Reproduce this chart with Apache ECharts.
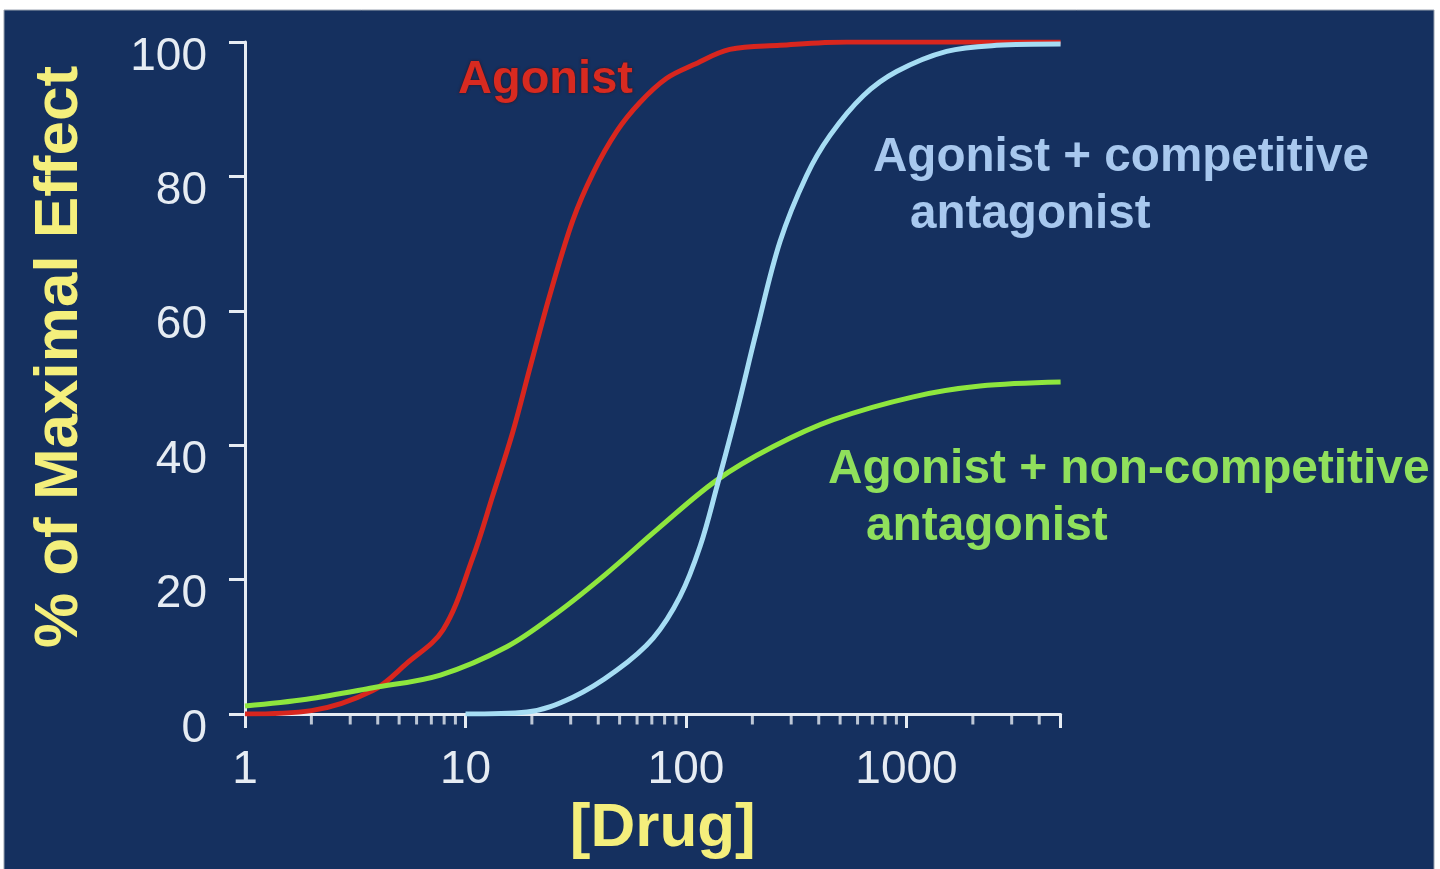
<!DOCTYPE html>
<html>
<head>
<meta charset="utf-8">
<title>Agonist dose-response</title>
<script src="https://cdn.jsdelivr.net/npm/echarts@6/dist/echarts.min.js"></script>
<style>
  html, body { margin: 0; padding: 0; background: #ffffff; }
  #chart { width: 1440px; height: 869px; }
</style>
</head>
<body>
<div id="chart"></div>
<script>
// values
const agonistDose = [1, 2, 3.8, 5.4, 7.9, 10.8, 13.3, 16.4, 19.6, 24.2, 30.7, 37.9, 48.5, 61.8, 81.7, 108, 158, 267, 536, 5000];
const agonistEffect = [0, 0.5, 3.5, 7.5, 12.5, 23.3, 32.5, 42, 51.5, 62.5, 73.5, 80.5, 86.7, 91.0, 94.6, 96.6, 98.9, 99.5, 100, 100];

const competitiveDose = [10, 19, 30.7, 48.5, 71, 94, 116, 138, 170, 209, 267, 352, 450, 637, 902, 1521, 2565, 5000];
const competitiveEffect = [0, 0.3, 2.5, 6.5, 11.3, 17.5, 25, 33.8, 45, 57, 70.3, 80.1, 86.1, 92.0, 95.6, 98.6, 99.5, 99.7];

const nonCompDose = [1, 1.9, 3.8, 7.7, 15.4, 25.9, 43.6, 73.6, 138, 249, 466, 1074, 2155, 5000];
const nonCompEffect = [1.2, 2.2, 3.9, 5.8, 10.0, 15.0, 20.9, 27.4, 34.8, 39.8, 43.8, 47.2, 48.8, 49.4];

const xTickLabels = [1, 10, 100, 1000];
const xMinorTicks = [2, 3, 4, 5, 6, 7, 8, 9, 20, 30, 40, 50, 60, 70, 80, 90,
  200, 300, 400, 500, 600, 700, 800, 900, 2000, 3000, 4000];

const axisColor = '#e6ecf3';
const font = '"Liberation Sans", Arial, Helvetica, sans-serif';

function pairs(xs, ys) {
  return xs.map((x, i) => [x, ys[i]]);
}

const chart = echarts.init(document.getElementById('chart'));

const option = {
  backgroundColor: '#ffffff',
  animation: false,
  grid: {
    left: 245,
    top: 42,
    width: 815.6,
    height: 672
  },
  xAxis: {
    type: 'log',
    logBase: 10,
    min: 1,
    max: 5000,
    name: '[Drug]',
    nameLocation: 'middle',
    nameGap: 78,
    nameTextStyle: {
      color: '#f4ef7c',
      fontFamily: font,
      fontWeight: 'bold',
      fontSize: 62,
      padding: [0, 0, 0, 20]
    },
    axisLine: { lineStyle: { color: axisColor, width: 3 } },
    axisTick: { length: 14, lineStyle: { color: axisColor, width: 3 } },
    splitLine: { show: false },
    axisLabel: {
      color: axisColor,
      fontFamily: font,
      fontSize: 46,
      margin: 33,
      formatter: function (v) {
        const hit = xTickLabels.find(t => Math.abs(t - v) < 1e-6 * t);
        return hit ? String(hit) : '';
      }
    }
  },
  yAxis: {
    type: 'value',
    min: 0,
    max: 100,
    interval: 20,
    name: '% of Maximal Effect',
    nameLocation: 'middle',
    nameGap: 154,
    nameTextStyle: {
      color: '#f4ef7c',
      fontFamily: font,
      fontWeight: 'bold',
      fontSize: 62,
      padding: [0, 0, 0, 42]
    },
    axisLine: { show: true, lineStyle: { color: axisColor, width: 3 } },
    axisTick: { show: true, length: 16, lineStyle: { color: axisColor, width: 3 } },
    splitLine: { show: false },
    axisLabel: {
      color: axisColor,
      fontFamily: font,
      fontSize: 46,
      margin: 38,
      verticalAlign: 'top',
      lineHeight: 30
    }
  },
  graphic: [
    {
      type: 'rect',
      z: -10,
      silent: true,
      shape: { x: 4, y: 10, width: 1430, height: 870 },
      style: { fill: '#15305f', stroke: '#9aa3b0', lineWidth: 1 }
    },
    {
      type: 'text', x: 458, y: 80, z: 10,
      style: { text: 'Agonist', fill: '#d82a20', font: 'bold 47px ' + font, verticalAlign: 'middle',
        textShadowColor: 'rgba(60,10,10,0.8)', textShadowBlur: 3 }
    },
    {
      type: 'text', x: 873, y: 158, z: 10,
      style: { text: 'Agonist + competitive', fill: '#a8c8ee', font: 'bold 47.6px ' + font, verticalAlign: 'middle' }
    },
    {
      type: 'text', x: 910, y: 215, z: 10,
      style: { text: 'antagonist', fill: '#a8c8ee', font: 'bold 47.6px ' + font, verticalAlign: 'middle' }
    },
    {
      type: 'text', x: 828, y: 470, z: 10,
      style: { text: 'Agonist + non-competitive', fill: '#90e05c', font: 'bold 47.8px ' + font, verticalAlign: 'middle' }
    },
    {
      type: 'text', x: 866, y: 527, z: 10,
      style: { text: 'antagonist', fill: '#90e05c', font: 'bold 47.8px ' + font, verticalAlign: 'middle' }
    }
  ],
  series: [
    {
      name: 'Agonist',
      type: 'line',
      smooth: 0.35,
      symbol: 'none',
      lineStyle: { color: '#d8261e', width: 5 },
      data: pairs(agonistDose, agonistEffect)
    },
    {
      name: 'Agonist + non-competitive antagonist',
      type: 'line',
      smooth: 0.35,
      symbol: 'none',
      lineStyle: { color: '#8ee63e', width: 5 },
      data: pairs(nonCompDose, nonCompEffect)
    },
    {
      name: 'Agonist + competitive antagonist',
      type: 'line',
      smooth: 0.35,
      symbol: 'none',
      lineStyle: { color: '#a6ddf4', width: 5 },
      data: pairs(competitiveDose, competitiveEffect)
    },
    {
      // minor log ticks under the x axis
      name: 'minor ticks',
      type: 'scatter',
      silent: true,
      clip: false,
      symbol: 'rect',
      symbolSize: [3, 9],
      symbolOffset: [0, 6],
      itemStyle: { color: axisColor },
      data: xMinorTicks.map(d => [d, 0])
    }
  ]
};

chart.setOption(option);
</script>
</body>
</html>
